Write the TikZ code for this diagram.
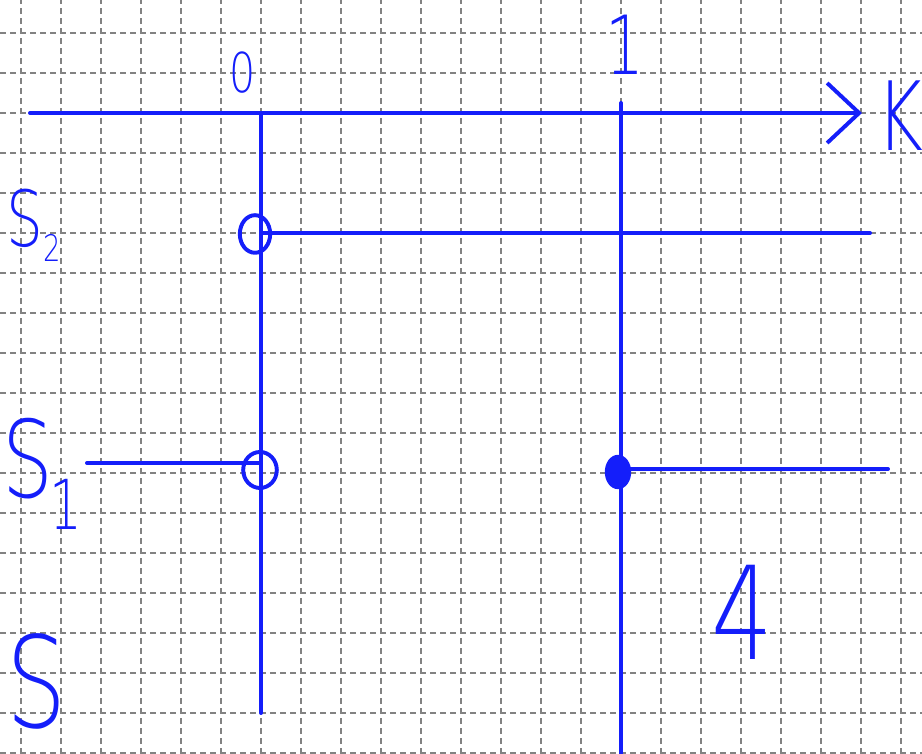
\documentclass[tikz,border=0pt]{standalone}
\usepackage{fontspec}
\newfontfamily\handfont[FakeStretch=0.75]{DejaVu Sans ExtraLight}
\usetikzlibrary{arrows.meta}
\definecolor{penblue}{RGB}{20,30,250}
\definecolor{gridgray}{RGB}{130,130,130}

\begin{document}
\begin{tikzpicture}[line cap=round, line join=round,
		pen/.style={penblue, line width=2.8pt},
		hand/.style={penblue, inner sep=0pt, font=\handfont\fontsize{#1}{#1}\selectfont},
		gridline/.style={gridgray, line width=1.3pt, line cap=butt, dash pattern=on 0.15cm off 0.1cm}]
	% Page size of the squared sheet
	\def\xmax{23.05} \def\ymax{18.85}
	\useasboundingbox (0,0) rectangle (\xmax,\ymax);
	
	% Squared paper behind the drawing
	\begin{scope}
		\clip (0,0) rectangle (\xmax,\ymax);
		\foreach \i in {0,...,22}
		\draw[gridline] (0.525+\i,0) -- (0.525+\i,\ymax);
		\foreach \j in {0,...,18}
		\draw[gridline] (0,0.025+\j) -- (\xmax,0.025+\j);
	\end{scope}
	
	% Points used by the lines
	\coordinate (kstart) at (0.75,16.025);
	\coordinate (kend) at (21.55,16.025);
	\coordinate (ztop) at (6.525,16.025);
	\coordinate (zbot) at (6.525,1.025);
	\coordinate (otop) at (15.525,16.275);
	\coordinate (obot) at (15.525,0);
	\coordinate (stwoa) at (6.525,13.025);
	\coordinate (stwob) at (21.75,13.025);
	\coordinate (sonea) at (2.175,7.275);
	\coordinate (soneb) at (6.525,7.275);
	\coordinate (sonec) at (15.525,7.125);
	\coordinate (soned) at (22.2,7.125);
	
	% K axis with open arrow head
	\draw[pen, -{Straight Barb[length=0.8cm, width=1.5cm]}] (kstart) -- (kend);
	
	% Vertical lines at 0 and 1
	\draw[pen] (ztop) -- (zbot);
	\draw[pen] (otop) -- (obot);
	
	% Horizontal pieces for S_2 and S_1
	\draw[pen] (stwoa) -- (stwob);
	\draw[pen] (sonea) -- (soneb);
	\draw[pen] (sonec) -- (soned);
	
	% Open and filled end points
	\draw[pen] (6.375,13.0) ellipse [x radius=0.38, y radius=0.47];
	\draw[pen] (6.5,7.1) ellipse [x radius=0.42, y radius=0.45];
	\fill[penblue] (15.45,7.05) ellipse [x radius=0.33, y radius=0.43];
	
	% Labels
	\node[hand=39pt] (lzero) at (6.075,17.025) {0};
	\node[hand=58pt] (lone) at (15.625,17.725) {1};
	\node[hand=68pt] (lk) at (22.5,15.95) {K};
	\node[hand=55pt, anchor=base west] (lstwo) at (0.15,12.675)
		{S\raisebox{-0.375cm}{\fontsize{26}{26}\selectfont 2}};
	\node[hand=76pt, anchor=base west] (lsone) at (0.05,6.4)
		{S\kern-0.1cm\raisebox{-0.8cm}{\fontsize{49}{49}\selectfont 1}};
	\node[hand=90pt, anchor=base west] (ls) at (0.15,0.65) {S};
	\node[hand=92pt] (lfour) at (18.55,3.55) {4};
\end{tikzpicture}
\end{document}
